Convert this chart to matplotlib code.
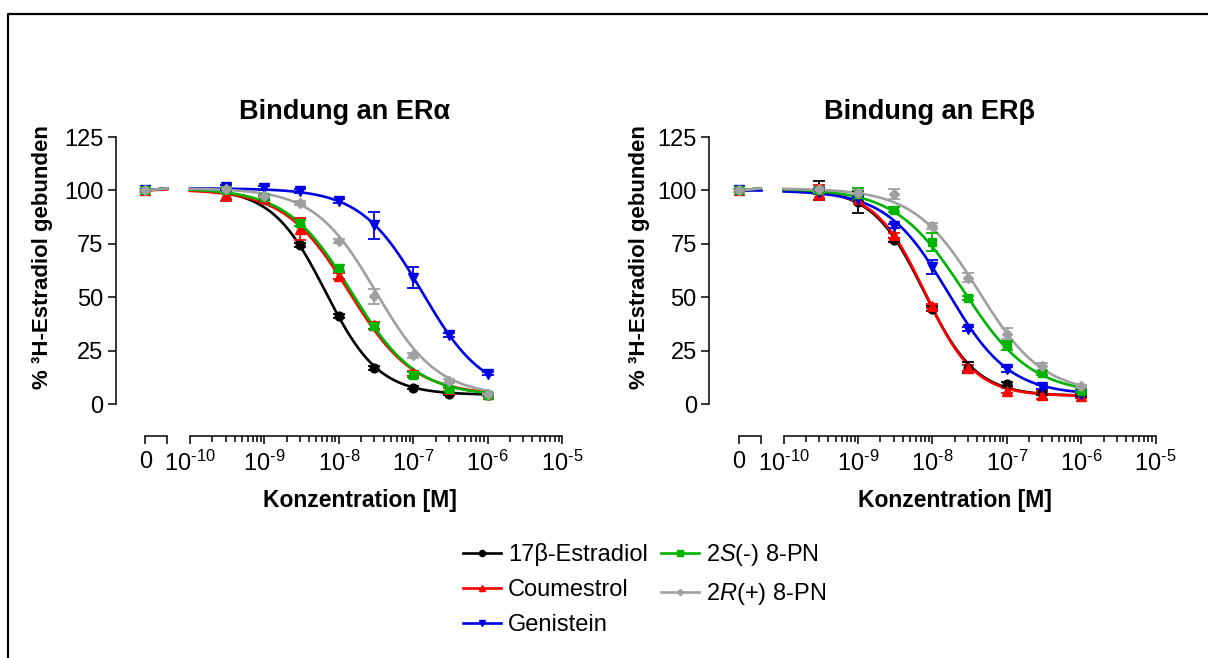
import numpy as np
import matplotlib.pyplot as plt
from matplotlib.lines import Line2D

plt.rcParams['font.family'] = ['Liberation Sans', 'DejaVu Sans']
plt.rcParams['mathtext.fontset'] = 'custom'
plt.rcParams['mathtext.rm'] = 'Liberation Sans'
plt.rcParams['mathtext.it'] = 'Liberation Sans:italic'
plt.rcParams['mathtext.bf'] = 'Liberation Sans:bold'

# concentrations [M]; 0 = ohne Kompetitor
conc = [0, 3e-10, 1e-9, 3e-9, 1e-8, 3e-8, 1e-7, 3e-7, 1e-6]

names = ["17β-Estradiol", "Coumestrol", "Genistein",
         "2$\\mathit{S}$(-) 8-PN", "2$\\mathit{R}$(+) 8-PN"]
colors = ["black", "#ff0000", "#0000e6", "#00b400", "#a0a0a0"]
markers = ["o", "^", "v", "s", "D"]
msizes = [6.3, 6.5, 6.5, 6.0, 4.6]

# ER alpha: bound % per compound (order as names)
era_vals = [
    [100, 100, 95.8, 74.4, 41.2, 17.2, 7.8, 4.8, 4.5],
    [100, 98.5, 96.5, 82.0, 60.0, 37.0, 14.5, 7.0, 5.0],
    [100, 101.4, 101.0, 99.9, 95.2, 83.8, 59.3, 32.6, 14.4],
    [100, 100, 97.0, 84.9, 63.8, 36.7, 14.0, 7.3, 4.5],
    [100, 100.5, 97.5, 94.0, 76.5, 50.5, 22.9, 10.9, 5.0],
]
era_err = [
    [0.8, 1.0, 1.5, 1.0, 1.0, 1.0, 0.8, 0.5, 0.5],
    [0.8, 3.5, 1.0, 5.0, 1.5, 1.5, 1.0, 0.8, 0.5],
    [0.8, 1.0, 1.0, 1.0, 1.0, 6.3, 5.0, 1.0, 0.8],
    [0.8, 1.0, 1.0, 1.5, 1.5, 1.5, 1.0, 0.8, 0.5],
    [0.8, 1.0, 1.0, 1.0, 1.0, 3.5, 1.0, 0.8, 0.5],
]
# fitted sigmoid parameters: top, bottom, logIC50, hill
era_fit = [
    [101.0, 4.5, -8.18, 1.21],
    [100.5, 4.5, -7.86, 1.0],
    [101.0, 4.0, -6.88, 1.05],
    [101.0, 4.0, -7.83, 1.0],
    [101.0, 4.0, -7.50, 1.05],
]

# ER beta
erb_vals = [
    [100, 100, 94.7, 76.8, 44.8, 17.2, 9.7, 5.3, 4.0],
    [100, 99.0, 96.0, 79.0, 46.0, 17.0, 6.5, 4.5, 4.0],
    [100, 99.5, 96.0, 83.5, 64.3, 35.4, 16.4, 8.1, 4.7],
    [100, 100, 98.3, 91.1, 76.0, 49.8, 27.6, 14.7, 6.5],
    [100, 100.5, 99.0, 98.3, 83.5, 59.3, 33.1, 17.8, 8.4],
]
erb_err = [
    [0.8, 4.3, 5.0, 1.0, 1.0, 2.7, 1.0, 0.8, 0.8],
    [0.8, 3.5, 1.0, 1.0, 1.0, 1.5, 1.0, 2.0, 0.8],
    [0.8, 1.0, 1.0, 1.0, 3.1, 1.0, 1.0, 1.0, 0.8],
    [0.8, 1.0, 2.7, 1.0, 4.3, 1.0, 2.0, 1.0, 0.8],
    [0.8, 1.0, 1.0, 2.3, 1.5, 2.3, 2.6, 1.5, 0.8],
]
erb_fit = [
    [101.0, 4.0, -8.11, 1.25],
    [100.5, 4.0, -8.10, 1.30],
    [100.0, 4.5, -7.79, 1.05],
    [101.0, 5.0, -7.58, 0.95],
    [101.0, 5.0, -7.38, 1.0],
]

ZERO_POS = -10.6
ZERO_END = -10.31


def xpos(c):
    return ZERO_POS if c == 0 else np.log10(c)


def draw_panel(ax, vals, errs, fits):
    x = np.array([xpos(c) for c in conc])
    order = [4, 2, 1, 3, 0]
    for i in order:
        top, bottom, logic50, hill = fits[i]
        xs = np.linspace(-10, np.log10(conc[-1]), 300)
        ys = bottom + (top - bottom) / (1 + 10 ** ((xs - logic50) * hill))
        ax.plot(xs, ys, color=colors[i], lw=1.9, zorder=2 + i * 0.1, clip_on=False)
        ax.plot([ZERO_POS, ZERO_END], [vals[i][0], top], color=colors[i], lw=1.9,
                zorder=2 + i * 0.1, clip_on=False)
        ax.errorbar(x, vals[i], yerr=errs[i], fmt="none", ecolor=colors[i],
                    elinewidth=1.3, capsize=4, capthick=1.3, zorder=3 + i * 0.1, clip_on=False)
        ax.plot(x, vals[i], ls="none", marker=markers[i], ms=msizes[i],
                color=colors[i], zorder=4 + i * 0.1, clip_on=False)

    ax.set_xlim(-11.0, -5)
    ax.set_ylim(-14.6, 125)
    for s in ["top", "right"]:
        ax.spines[s].set_visible(False)
    ax.spines["left"].set_bounds(0, 125)
    ax.spines["bottom"].set_bounds(-10, -5)
    for s in ["left", "bottom"]:
        ax.spines[s].set_linewidth(1.1)
    ax.plot([ZERO_POS, ZERO_END], [0, 0], color="black", lw=1.1,
            transform=ax.get_xaxis_transform(), clip_on=False)

    ax.set_yticks([0, 25, 50, 75, 100, 125])
    ax.set_yticklabels(["0", "25", "50", "75", "100", "125"])
    ax.set_xticks([ZERO_POS, ZERO_END, -10, -9, -8, -7, -6, -5])
    ax.set_xticklabels(["0", "", "10$^{\\text{-10}}$", "10$^{\\text{-9}}$",
                        "10$^{\\text{-8}}$", "10$^{\\text{-7}}$",
                        "10$^{\\text{-6}}$", "10$^{\\text{-5}}$"])
    minor = [n + np.log10(k) for n in range(-10, -5) for k in range(2, 10)]
    ax.set_xticks(minor, minor=True)
    ax.tick_params(axis="y", which="major", length=6, width=1.1,
                   labelsize=17, pad=3)
    ax.tick_params(axis="x", which="major", length=6, width=1.1,
                   labelsize=17, pad=5)
    ax.tick_params(axis="x", which="minor", length=4, width=1.1)


fig = plt.figure(figsize=(12.08, 6.58), dpi=100)
W, H = 1208, 658
ax1 = fig.add_axes([115.7 / W, 1 - 435.7 / H, 446.3 / W, 298.7 / H])
ax2 = fig.add_axes([709.3 / W, 1 - 435.7 / H, 446.3 / W, 298.7 / H])

draw_panel(ax1, era_vals, era_err, era_fit)
draw_panel(ax2, erb_vals, erb_err, erb_fit)

for ax, lx in [(ax1, -0.1405), (ax2, -0.133)]:
    ax.set_ylabel("% ³H-Estradiol gebunden", fontsize=16, fontweight="bold")
    ax.yaxis.set_label_coords(lx, 0.598)

fig.text(345 / W, 1 - 112 / H, "Bindung an ERα", ha="center", va="center",
         fontsize=19.5, fontweight="bold")
fig.text(930 / W, 1 - 112 / H, "Bindung an ERβ", ha="center", va="center",
         fontsize=19.5, fontweight="bold")
fig.text(360 / W, 1 - 500 / H, "Konzentration [M]", ha="center", va="center",
         fontsize=16.5, fontweight="bold")
fig.text(955 / W, 1 - 500 / H, "Konzentration [M]", ha="center", va="center",
         fontsize=16.5, fontweight="bold")

handles = [Line2D([], [], color=colors[i], marker=markers[i], ms=msizes[i] * 0.7,
                  lw=1.9) for i in range(5)]
fig.legend(handles, names, ncol=2, loc="upper left",
           bbox_to_anchor=(463 / W, 1 - 542 / H), bbox_transform=fig.transFigure,
           frameon=False, fontsize=17, borderpad=0, borderaxespad=0,
           handlelength=1.6, handletextpad=0.3, columnspacing=0.55,
           labelspacing=0.55)

# outer frame (top and left edge)
fig.add_artist(Line2D([8 / W, 8 / W, 1], [0, 1 - 13.5 / H, 1 - 13.5 / H],
                      color="black", lw=1.6, transform=fig.transFigure))

fig.savefig("out.png", dpi=100)
